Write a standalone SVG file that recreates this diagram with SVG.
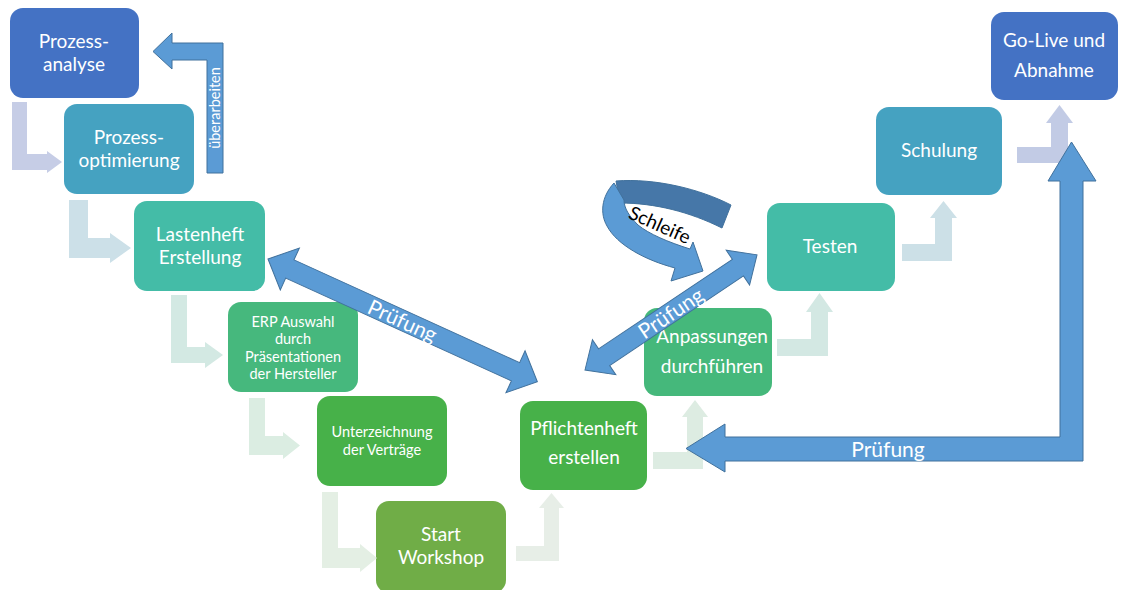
<svg xmlns="http://www.w3.org/2000/svg" width="1122" height="590" viewBox="0 0 1122 590">
  <style>
    .box { stroke: none; }
    .t { font-family: Lato, "Open Sans", sans-serif; fill: #FFFFFF; text-anchor: middle; }
    .big { font-size: 19px; }
    .small { font-size: 14.5px; }
    .blue { fill: #5B9BD5; stroke: #41719C; stroke-width: 1; stroke-linejoin: miter; }
    .back { fill: #4677A8; stroke: #41719C; stroke-width: 1; }
    .lbl { font-family: Lato, "Open Sans", sans-serif; fill: #FFFFFF; font-size: 21px; text-anchor: middle; }
  </style>

  <!-- phases -->
  <g id="prozessanalyse">
    <rect class="box" x="10" y="8" width="129" height="90" rx="13" fill="#4472C4"/>
    <text class="t big" x="74" y="48">Prozess-</text>
    <text class="t big" x="74" y="71">analyse</text>
  </g>
  <g id="prozessoptimierung">
    <rect class="box" x="64" y="104" width="130" height="90" rx="13" fill="#45A2C1"/>
    <text class="t big" x="129" y="144">Prozess-</text>
    <text class="t big" x="129" y="167">optimierung</text>
  </g>
  <g id="lastenheft">
    <rect class="box" x="134" y="201" width="131" height="90" rx="13" fill="#44BCA7"/>
    <text class="t big" x="200" y="241">Lastenheft</text>
    <text class="t big" x="200" y="264">Erstellung</text>
  </g>
  <g id="erp-auswahl">
    <rect class="box" x="228" y="302" width="130" height="90" rx="13" fill="#46B87D"/>
    <text class="t small" x="293" y="327">ERP Auswahl</text>
    <text class="t small" x="293" y="344">durch</text>
    <text class="t small" x="293" y="362">Präsentationen</text>
    <text class="t small" x="293" y="379">der Hersteller</text>
  </g>
  <g id="unterzeichnung">
    <rect class="box" x="317" y="396" width="130" height="90" rx="13" fill="#47B149"/>
    <text class="t small" x="382" y="437">Unterzeichnung</text>
    <text class="t small" x="382" y="455">der Verträge</text>
  </g>
  <g id="start-workshop">
    <rect class="box" x="376" y="501" width="130" height="92" rx="13" fill="#70AD47"/>
    <text class="t big" x="441" y="541">Start</text>
    <text class="t big" x="441" y="564">Workshop</text>
  </g>
  <g id="pflichtenheft">
    <rect class="box" x="520" y="401" width="127" height="89" rx="13" fill="#47B149"/>
    <text class="t big" x="584" y="435">Pflichtenheft</text>
    <text class="t big" x="584" y="464">erstellen</text>
  </g>
  <g id="anpassungen">
    <rect class="box" x="644" y="308" width="128" height="88" rx="13" fill="#45B87B"/>
    <text class="t big" x="712" y="343">Anpassungen</text>
    <text class="t big" x="712" y="373">durchführen</text>
  </g>
  <g id="testen">
    <rect class="box" x="767" y="203" width="128" height="88" rx="13" fill="#44BCA7"/>
    <text class="t big" x="830" y="253">Testen</text>
  </g>
  <g id="schulung">
    <rect class="box" x="876" y="107" width="126" height="88" rx="13" fill="#45A2C1"/>
    <text class="t big" x="939" y="157">Schulung</text>
  </g>
  <g id="go-live">
    <rect class="box" x="991" y="12" width="127" height="88" rx="13" fill="#4472C4"/>
    <text class="t big" x="1054" y="47">Go-Live und</text>
    <text class="t big" x="1054" y="77">Abnahme</text>
  </g>

  <g id="connectors">
    <!-- light step arrows between phases -->
    <polygon fill="#C6CDE6" points="12,102 27,102 27,154 47,154 47,151 62,162 47,173 47,170 12,170"/>
    <polygon fill="#CCE0E8" points="69,200 88,200 88,238 110,238 110,233 131,248 110,263 110,258 69,258"/>
    <polygon fill="#D3E9E3" points="171,295 187,295 187,347 205,347 205,342 223,355 205,368 205,363 171,363"/>
    <polygon fill="#DBEDE2" points="249,398 265,398 265,436 283,436 283,432 300,445.5 283,459 283,455 249,455"/>
    <polygon fill="#E4EFE4" points="322,492 338,492 338,548 360,548 360,544 377,558 360,572 360,568 322,568"/>

    <polygon fill="#E7EEE7" points="516,546 544,546 544,508 539,508 551.5,493 564,508 559,508 559,561 516,561"/>
    <polygon fill="#DDECE2" points="653,452 687,452 687,417 682,417 695,400 708,417 703,417 703,469 653,469"/>
    <polygon fill="#D3E8E3" points="777,339 811,339 811,312 806,312 819.5,293 833,312 828,312 828,356 777,356"/>
    <polygon fill="#CCE0E7" points="902,244 935,244 935,218 930,218 943.5,201 957,218 952,218 952,261 902,261"/>
    <polygon fill="#C2CBE5" points="1017,147 1051,147 1051,123 1046,123 1059.5,105 1073,123 1068,123 1068,163 1017,163"/>

    <!-- rework arrow back to the analysis -->
    <g id="arrow-ueberarbeiten">
      <polygon class="blue" points="207,173 223,173 223,43 172,43 172,33 153,51.5 172,69 172,60 207,60"/>
      <text class="t" font-size="14.5" transform="translate(220,108) rotate(-90)">überarbeiten</text>
    </g>

    <!-- check between Lastenheft and Pflichtenheft -->
    <g id="arrow-pruefung-1" transform="translate(268,259) rotate(24.5)">
      <polygon class="blue" points="0,0 24,-23 24,-10 272,-10 272,-23 296,0 272,23 272,10 24,10 24,23"/>
      <text class="lbl" x="148" y="8">Prüfung</text>
    </g>

    <!-- check between Pflichtenheft and Testen -->
    <g id="arrow-pruefung-2" transform="translate(585,370) rotate(-33.8)">
      <polygon class="blue" points="0,0 23,-21 23,-10 184,-10 184,-21 207,0 184,21 184,10 23,10 23,21"/>
      <text class="lbl" x="103" y="8">Prüfung</text>
    </g>

    <!-- loop arrow -->
    <g id="arrow-schleife">
      <path class="back" d="M 616,181 C 655,178 700,189 731,205 L 722,228 C 690,212 655,203 620,203 Z"/>
      <path class="blue" d="M 614,183 C 601,197 600,214 607,226 C 617,245 645,260 675,268 L 671,281 L 703,271 L 693,242 L 690,249 C 668,242 649,234 638,225 C 629,216 624,208 624,200 Z"/>
      <text font-family="Lato, 'Open Sans', sans-serif" font-size="19" fill="#000000" text-anchor="middle" transform="translate(657,231) rotate(24)">Schleife</text>
    </g>

    <!-- final check between Go-Live and Pflichtenheft -->
    <g id="arrow-pruefung-3">
      <polygon class="blue" points="1071.5,142 1096,181 1083,181 1083,461 725,461 725,472 686,448.5 725,424 725,437 1060,437 1060,181 1048,181"/>
      <text class="lbl" x="888" y="457">Prüfung</text>
    </g>
  </g>
</svg>
